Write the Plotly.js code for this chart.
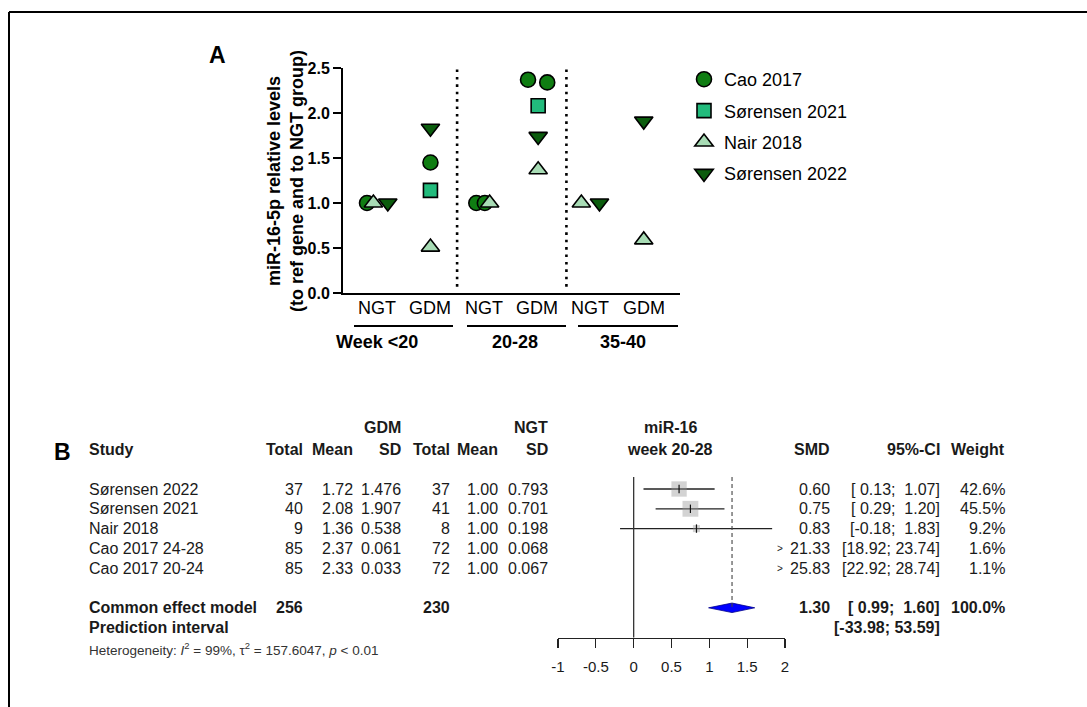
<!DOCTYPE html>
<html><head><meta charset="utf-8">
<script src="https://cdn.plot.ly/plotly-3.0.1.min.js"></script>
<style>html,body{margin:0;padding:0;background:#fff}#chart{width:1087px;height:707px}</style>
</head><body><div id="chart"></div>
<script>
const W = 1087, H = 707;
const X = p => p / W, Y = p => 1 - p / H;

// ---------- Panel A data ----------
const slotLabels = ['NGT', 'GDM', 'NGT', 'GDM', 'NGT', 'GDM'];
const weekLabels = ['Week <20', '20-28', '35-40'];
const studiesA = ['Cao 2017', 'Sørensen 2021', 'Nair 2018', 'Sørensen 2022'];
const caoSlots = [0, 1, 2, 2, 3, 3];
const caoValues = [1.00, 1.45, 1.00, 1.00, 2.37, 2.34];
const sor2021Slots = [1, 3];
const sor2021Values = [1.14, 2.08];
const nairSlots = [0, 1, 2, 3, 4, 5];
const nairValues = [1.00, 0.51, 1.00, 1.37, 1.00, 0.59];
const sor2022Slots = [0, 1, 3, 4, 5];
const sor2022Values = [1.00, 1.83, 1.74, 1.00, 1.91];
// small horizontal jitter so overlapping points stay visible (slot units)
const caoJitter = [-0.19, 0, -0.14, 0.02, -0.17, 0.19];
const sor2021Jitter = [0, 0.02];
const nairJitter = [-0.07, 0, 0.11, 0.02, -0.17, 0];
const sor2022Jitter = [0.2, 0, 0.02, 0.17, 0];

// ---------- Panel B data ----------
const studiesB = ['Sørensen 2022', 'Sørensen 2021', 'Nair 2018', 'Cao 2017 24-28', 'Cao 2017 20-24'];
const gdmTotal = [37, 40, 9, 85, 85];
const gdmMean = [1.72, 2.08, 1.36, 2.37, 2.33];
const gdmSD = [1.476, 1.907, 0.538, 0.061, 0.033];
const ngtTotal = [37, 41, 8, 72, 72];
const ngtMean = [1.00, 1.00, 1.00, 1.00, 1.00];
const ngtSD = [0.793, 0.701, 0.198, 0.068, 0.067];
const smd = [0.60, 0.75, 0.83, 21.33, 25.83];
const ciLow = [0.13, 0.29, -0.18, 18.92, 22.92];
const ciHigh = [1.07, 1.20, 1.83, 23.74, 28.74];
const weight = [42.6, 45.5, 9.2, 1.6, 1.1];
const pooledTotals = [256, 230];
const pooledSMD = 1.30, pooledLow = 0.99, pooledHigh = 1.60;
const predLow = -33.98, predHigh = 53.59;
const forestTicks = [-1, -0.5, 0, 0.5, 1, 1.5, 2];

const FONT = 'Liberation Sans, Arial, sans-serif';
const BLACK = '#000';
const TXT = '#1a1a1a';

function pointTrace(name, slots, vals, jit, symbol, color, size) {
  return {
    type: 'scatter', mode: 'markers', name: name, legendgroup: name,
    x: slots.map((s, i) => s + jit[i]), y: vals,
    xaxis: 'x', yaxis: 'y',
    marker: {symbol: symbol, size: size, color: color, line: {color: BLACK, width: 1.6}},
    hoverinfo: 'skip'
  };
}

const traces = [
  pointTrace(studiesA[0], caoSlots, caoValues, caoJitter, 'circle', '#0f7d12', 15),
  pointTrace(studiesA[1], sor2021Slots, sor2021Values, sor2021Jitter, 'square', '#22bb7c', 14),
  pointTrace(studiesA[2], nairSlots, nairValues, nairJitter, 'triangle-up', '#a8dcb5', 16),
  pointTrace(studiesA[3], sor2022Slots, sor2022Values, sor2022Jitter, 'triangle-down', '#0b5c0d', 16)
];

// forest: CI lines
const rows = studiesB.map((_, i) => i);
const ciX = [], ciY = [];
rows.forEach(r => { ciX.push(ciLow[r], ciHigh[r], null); ciY.push(r, r, null); });
traces.push({type: 'scatter', mode: 'lines', x: ciX, y: ciY, xaxis: 'x2', yaxis: 'y2',
  line: {color: '#222', width: 1.3}, showlegend: false, hoverinfo: 'skip'});
traces.push({type: 'scatter', mode: 'markers', x: smd, y: rows, xaxis: 'x2', yaxis: 'y2',
  marker: {symbol: 'square', size: weight.map(w => 2.35 * Math.sqrt(w)), color: 'rgba(150,150,150,0.6)', line: {width: 0}},
  showlegend: false, hoverinfo: 'skip'});
traces.push({type: 'scatter', mode: 'markers', x: smd, y: rows, xaxis: 'x2', yaxis: 'y2',
  marker: {symbol: 'line-ns-open', size: 6, color: '#111', line: {color: '#111', width: 1.2}},
  showlegend: false, hoverinfo: 'skip'});
const pooledRow = studiesB.length + 1;
const dh = 0.24;
traces.push({type: 'scatter', mode: 'lines', fill: 'toself', fillcolor: '#0000ff',
  x: [pooledLow, pooledSMD, pooledHigh, pooledSMD, pooledLow],
  y: [pooledRow, pooledRow - dh, pooledRow, pooledRow + dh, pooledRow],
  xaxis: 'x2', yaxis: 'y2', line: {color: '#00008b', width: 0.8}, showlegend: false, hoverinfo: 'skip'});

// ---------- annotations ----------
const ann = [];
function t(text, x, y, opt) {
  ann.push(Object.assign({text: text, x: x, y: y, xref: 'paper', yref: 'paper', showarrow: false,
    xanchor: 'center', yanchor: 'middle', font: {family: FONT, size: 16, color: TXT}}, opt || {}));
}
// Panel A
t('<b>A</b>', X(217), Y(55), {font: {family: FONT, size: 23, color: BLACK}});
t('<b>miR-16-5p relative levels<br>(to ref gene and to NGT group)</b>', X(285), Y(181),
  {textangle: -90, font: {family: FONT, size: 18, color: BLACK}});
slotLabels.forEach((s, i) => t(s, i, Y(308), {xref: 'x', font: {family: FONT, size: 18, color: BLACK}}));
const weekCenters = [377, 515, 623];
weekLabels.forEach((w, i) => t('<b>' + w.replace('<', '&lt;') + '</b>', X(weekCenters[i]), Y(342),
  {font: {family: FONT, size: 18, color: BLACK}}));

// Panel B
function r(text, xpx, row, anchor, opt) {
  t(text, X(xpx), row, Object.assign({yref: 'y2', xanchor: anchor}, opt || {}));
}
t('<b>B</b>', X(62), Y(452), {font: {family: FONT, size: 23, color: BLACK}});
const hdr1 = -3.13, hdr2 = -1.97;
r('<b>GDM</b>', 403, hdr1, 'right');
r('<b>NGT</b>', 550, hdr1, 'right');
r('<b>miR-16</b>', 670, hdr1, 'center');
r('<b>Study</b>', 87, hdr2, 'left');
r('<b>Total</b>', 305, hdr2, 'right');
r('<b>Mean</b>', 355, hdr2, 'right');
r('<b>SD</b>', 403, hdr2, 'right');
r('<b>Total</b>', 452, hdr2, 'right');
r('<b>Mean</b>', 500, hdr2, 'right');
r('<b>SD</b>', 550, hdr2, 'right');
r('<b>week 20-28</b>', 670, hdr2, 'center');
r('<b>SMD</b>', 832, hdr2, 'right');
r('<b>95%-CI</b>', 942, hdr2, 'right');
r('<b>Weight</b>', 1007, hdr2, 'right');

const pad = v => { const s = v.toFixed(2); return (s.length < 5 ? '\u00a0' : '') + s; };
const ci = (lo, hi) => '[' + pad(lo) + '; ' + pad(hi) + ']';
rows.forEach(i => {
  r(studiesB[i], 87, i, 'left');
  r(String(gdmTotal[i]), 305, i, 'right');
  r(gdmMean[i].toFixed(2), 355, i, 'right');
  r(gdmSD[i].toFixed(3), 403, i, 'right');
  r(String(ngtTotal[i]), 452, i, 'right');
  r(ngtMean[i].toFixed(2), 500, i, 'right');
  r(ngtSD[i].toFixed(3), 550, i, 'right');
  r(smd[i].toFixed(2), 832, i, 'right');
  r(ci(ciLow[i], ciHigh[i]), 942, i, 'right');
  r(weight[i].toFixed(1) + '%', 1007, i, 'right');
  if (ciLow[i] > forestTicks[forestTicks.length - 1]) {
    ann.push({text: '>', x: forestTicks[forestTicks.length - 1], y: i, xref: 'x2', yref: 'y2', showarrow: false,
      xanchor: 'right', yanchor: 'middle', font: {family: FONT, size: 10, color: TXT}});
  }
});
r('<b>Common effect model</b>', 87, pooledRow, 'left');
r('<b>' + pooledTotals[0] + '</b>', 305, pooledRow, 'right');
r('<b>' + pooledTotals[1] + '</b>', 452, pooledRow, 'right');
r('<b>' + pooledSMD.toFixed(2) + '</b>', 832, pooledRow, 'right');
r('<b>' + ci(pooledLow, pooledHigh) + '</b>', 942, pooledRow, 'right');
r('<b>100.0%</b>', 1007, pooledRow, 'right');
r('<b>Prediction interval</b>', 87, pooledRow + 1, 'left');
r('<b>' + ci(predLow, predHigh) + '</b>', 942, pooledRow + 1, 'right');
r('Heterogeneity: <i>I</i><sup>2</sup> = 99%, τ<sup>2</sup> = 157.6047, <i>p</i> &lt; 0.01', 87, pooledRow + 2.08, 'left',
  {font: {family: FONT, size: 13.5, color: '#333'}});

// ---------- shapes ----------
const shapes = [
  // frame
  {type: 'line', xref: 'paper', yref: 'paper', x0: X(9), x1: 1, y0: Y(12), y1: Y(12), line: {color: BLACK, width: 2}},
  {type: 'line', xref: 'paper', yref: 'paper', x0: X(9), x1: X(9), y0: Y(12), y1: 0, line: {color: BLACK, width: 2}},
  // dotted separators
  {type: 'line', xref: 'x', yref: 'y', x0: 1.5, x1: 1.5, y0: 0.07, y1: 2.55, line: {color: BLACK, width: 2.6, dash: '2.6px,4.8px'}},
  {type: 'line', xref: 'x', yref: 'y', x0: 3.55, x1: 3.55, y0: 0.07, y1: 2.55, line: {color: BLACK, width: 2.6, dash: '2.6px,4.8px'}},
  // group underlines
  {type: 'line', xref: 'paper', yref: 'paper', x0: X(354), x1: X(453), y0: Y(326), y1: Y(326), line: {color: BLACK, width: 2}},
  {type: 'line', xref: 'paper', yref: 'paper', x0: X(467), x1: X(566), y0: Y(326), y1: Y(326), line: {color: BLACK, width: 2}},
  {type: 'line', xref: 'paper', yref: 'paper', x0: X(578), x1: X(678), y0: Y(326), y1: Y(326), line: {color: BLACK, width: 2}},
  // forest zero line and pooled dashed line
  {type: 'line', xref: 'x2', yref: 'y2', x0: 0, x1: 0, y0: -0.6, y1: 7.5, line: {color: '#333', width: 1.3}},
  {type: 'line', xref: 'x2', yref: 'y2', x0: pooledSMD, x1: pooledSMD, y0: -0.6, y1: pooledRow, line: {color: '#444', width: 1.1, dash: '4px,3px'}}
];

// forest rows: row r sits at 489 + 19.8*r px; y2 domain spans 405..670 px
const rowTop = (405 - 489) / 19.8, rowBottom = (670 - 489) / 19.8;

const layout = {
  width: W, height: H, margin: {l: 0, r: 0, t: 0, b: 0},
  paper_bgcolor: '#fff', plot_bgcolor: 'rgba(0,0,0,0)',
  font: {family: FONT, color: BLACK},
  xaxis: {domain: [X(343), X(680)], range: [-0.64, 5.68], showline: true, linewidth: 2, linecolor: BLACK,
    showgrid: false, zeroline: false, showticklabels: false, ticks: '', fixedrange: true},
  yaxis: {domain: [Y(293), Y(68)], range: [0, 2.5], showline: true, linewidth: 2, linecolor: BLACK,
    showgrid: false, zeroline: false, ticks: 'outside', ticklen: 8, tickwidth: 2, tickcolor: BLACK,
    tickvals: [0, 0.5, 1, 1.5, 2, 2.5], ticktext: ['0.0', '0.5', '1.0', '1.5', '2.0', '2.5'],
    tickfont: {family: FONT, size: 16, weight: 'bold', color: BLACK}, fixedrange: true},
  xaxis2: {domain: [X(558), X(785)], range: [-1, 2], anchor: 'free', position: Y(638), showline: true, linewidth: 1.3, linecolor: '#222',
    showgrid: false, zeroline: false, ticks: 'outside', ticklen: 9, tickwidth: 1.3, tickcolor: '#222',
    tickvals: forestTicks, ticktext: forestTicks.map(String), ticklabelstandoff: 6,
    tickfont: {family: FONT, size: 15, color: TXT}, fixedrange: true},
  yaxis2: {domain: [Y(670), Y(405)], range: [rowBottom, rowTop], visible: false, fixedrange: true},
  showlegend: true,
  legend: {x: X(684), y: Y(61), xanchor: 'left', yanchor: 'top', traceorder: 'grouped', tracegroupgap: 5,
    font: {family: FONT, size: 18, color: BLACK}, bgcolor: 'rgba(0,0,0,0)', itemsizing: 'trace'},
  annotations: ann, shapes: shapes
};

Plotly.newPlot('chart', traces, layout, {displayModeBar: false, staticPlot: true});
</script></body></html>
